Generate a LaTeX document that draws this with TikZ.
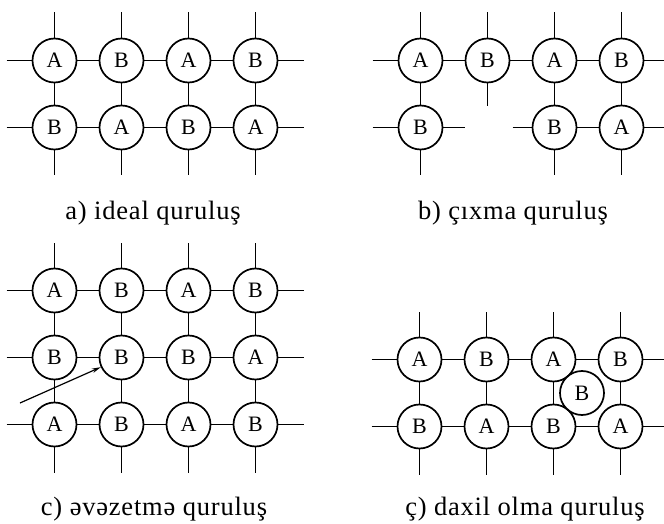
\documentclass[tikz,border=0pt]{standalone}
\usepackage{fontspec}
\setmainfont{Liberation Serif}
\usetikzlibrary{calc,arrows.meta}
\tikzset{atom/.style={circle,draw,line width=1.7pt,minimum size=44pt,inner sep=0pt,font=\fontsize{22}{22}\selectfont},
  bond/.style={line width=1.7pt},
  capt/.style={anchor=base,font=\fontsize{26.5}{26.5}\selectfont\addfontfeature{LetterSpace=3}}}

\begin{document}
\begin{tikzpicture}[x=1pt,y=1pt]
	\def\d{67}
	\def\s{48}
	\useasboundingbox (0,0) rectangle (664,523);
	% a) ideal
	\foreach \row/\col/\t in {1/1/A,1/2/B,1/3/A,1/4/B,2/1/B,2/2/A,2/3/B,2/4/A}
		\node[atom] (a\row\col) at (54.5+\d*\col-\d,462.5-\d*\row+\d) {\t};
	\foreach \col in {1,...,4}{
		\coordinate (an\col) at ($(a1\col)+(0,\s)$);
		\coordinate (as\col) at ($(a2\col)+(0,-\s)$);
		\draw[bond] (a1\col) -- (an\col) (a2\col) -- (as\col) (a1\col) -- (a2\col);
	}
	\foreach \row in {1,2}{
		\coordinate (aw\row) at ($(a\row1)+(-\s,0)$);
		\coordinate (ae\row) at ($(a\row4)+(\s,0)$);
		\draw[bond] (aw\row) -- (a\row1) (a\row1) -- (a\row2) (a\row2) -- (a\row3)
			(a\row3) -- (a\row4) (a\row4) -- (ae\row);
	}
	\node[capt] (capa) at (153,303) {a) ideal quruluş};
	% b) cixma
	\foreach \row/\col/\t in {1/1/A,1/2/B,1/3/A,1/4/B,2/1/B,2/3/B,2/4/A}
		\node[atom] (b\row\col) at (420.5+\d*\col-\d,462.5-\d*\row+\d) {\t};
	\foreach \col in {1,...,4}{
		\coordinate (bn\col) at ($(b1\col)+(0,\s)$);
		\draw[bond] (b1\col) -- (bn\col);
	}
	\foreach \col in {1,3,4}{
		\coordinate (bs\col) at ($(b2\col)+(0,-\s)$);
		\draw[bond] (b2\col) -- (bs\col) (b1\col) -- (b2\col);
	}
	\foreach \row in {1,2}{
		\coordinate (bw\row) at ($(b\row1)+(-\s,0)$);
		\coordinate (be\row) at ($(b\row4)+(\s,0)$);
		\draw[bond] (bw\row) -- (b\row1) (b\row4) -- (be\row);
	}
	\coordinate (bs2) at ($(b12)+(0,-46)$);
	\coordinate (bg1) at ($(b21)+(44,0)$);
	\coordinate (bg2) at ($(b23)+(-42,0)$);
	\draw[bond] (b11) -- (b12) (b12) -- (b13) (b13) -- (b14) (b23) -- (b24)
		(b12) -- (bs2) (b21) -- (bg1) (bg2) -- (b23);
	\node[capt] (capb) at (513,303) {b) çıxma quruluş};
	% c) evezetme
	\foreach \row/\col/\t in {1/1/A,1/2/B,1/3/A,1/4/B,2/1/B,2/2/B,2/3/B,2/4/A,3/1/A,3/2/B,3/3/A,3/4/B}
		\node[atom] (c\row\col) at (54.5+\d*\col-\d,232.5-\d*\row+\d) {\t};
	\foreach \col in {1,...,4}{
		\coordinate (cn\col) at ($(c1\col)+(0,\s)$);
		\coordinate (cs\col) at ($(c3\col)+(0,-\s)$);
		\draw[bond] (c1\col) -- (cn\col) (c3\col) -- (cs\col) (c1\col) -- (c2\col) (c2\col) -- (c3\col);
	}
	\foreach \row in {1,2,3}{
		\coordinate (cw\row) at ($(c\row1)+(-\s,0)$);
		\coordinate (ce\row) at ($(c\row4)+(\s,0)$);
		\draw[bond] (cw\row) -- (c\row1) (c\row1) -- (c\row2) (c\row2) -- (c\row3)
			(c\row3) -- (c\row4) (c\row4) -- (ce\row);
	}
	\coordinate (cx) at (20,120);
	\draw[bond,line width=1.2pt,-{Stealth[length=9pt,width=4.5pt]}] (cx) -- (c22.205);
	\node[capt] (capc) at (154,8) {c) əvəzetmə quruluş};
	% ç) daxil olma
	\foreach \row/\col/\t in {1/1/A,1/2/B,1/3/A,1/4/B,2/1/B,2/2/A,2/3/B,2/4/A}
		\node[atom] (d\row\col) at (419.5+\d*\col-\d,163.5-\d*\row+\d) {\t};
	\foreach \col in {1,...,4}{
		\coordinate (dn\col) at ($(d1\col)+(0,\s)$);
		\coordinate (ds\col) at ($(d2\col)+(0,-\s)$);
		\draw[bond] (d1\col) -- (dn\col) (d2\col) -- (ds\col) (d1\col) -- (d2\col);
	}
	\foreach \row in {1,2}{
		\coordinate (dw\row) at ($(d\row1)+(-\s,0)$);
		\coordinate (de\row) at ($(d\row4)+(\s,0)$);
		\draw[bond] (dw\row) -- (d\row1) (d\row1) -- (d\row2) (d\row2) -- (d\row3)
			(d\row3) -- (d\row4) (d\row4) -- (de\row);
	}
	\node[atom] (dx) at (582,130) {B};
	\node[capt] (capd) at (525,8) {ç) daxil olma quruluş};
\end{tikzpicture}
\end{document}
